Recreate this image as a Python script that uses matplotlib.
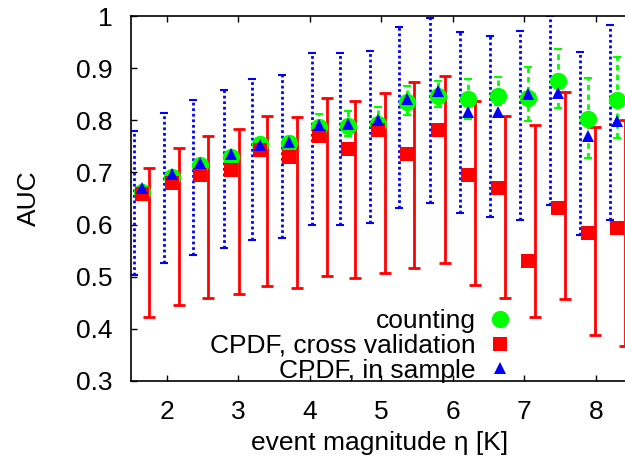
import matplotlib
matplotlib.use("Agg")
import matplotlib.pyplot as plt

plt.rcParams['font.family'] = ['Liberation Sans', 'DejaVu Sans']

# event magnitude bins (K)
magnitude = [1.65, 2.07, 2.47, 2.90, 3.30, 3.71, 4.13, 4.53, 4.95,
             5.36, 5.79, 6.21, 6.63, 7.05, 7.47, 7.89, 8.30]

# counting
counting = [0.663, 0.692, 0.714, 0.730, 0.754, 0.756, 0.787, 0.790, 0.794,
            0.835, 0.847, 0.842, 0.847, 0.844, 0.876, 0.802, 0.839]
counting_lo = [0.655, 0.684, 0.706, 0.722, 0.744, 0.746, 0.772, 0.771, 0.772,
               0.810, 0.825, 0.803, 0.830, 0.798, 0.823, 0.727, 0.767]
counting_hi = [0.671, 0.700, 0.722, 0.738, 0.764, 0.766, 0.812, 0.819, 0.826,
               0.867, 0.876, 0.879, 0.884, 0.903, 0.938, 0.882, 0.922]

# CPDF, cross validation
cross_val = [0.658, 0.679, 0.695, 0.705, 0.743, 0.730, 0.771, 0.745, 0.782,
             0.735, 0.782, 0.696, 0.671, 0.529, 0.632, 0.584, 0.594]
cross_val_lo = [0.423, 0.445, 0.459, 0.467, 0.481, 0.479, 0.502, 0.497, 0.507,
                0.516, 0.526, 0.484, 0.458, 0.422, 0.457, 0.388, 0.366]
cross_val_hi = [0.709, 0.747, 0.770, 0.784, 0.808, 0.806, 0.843, 0.838, 0.853,
                0.874, 0.885, 0.837, 0.808, 0.791, 0.855, 0.787, 0.801]

# CPDF, in sample
in_sample = [0.670, 0.697, 0.719, 0.735, 0.753, 0.759, 0.791, 0.793, 0.800,
             0.841, 0.857, 0.816, 0.817, 0.850, 0.853, 0.771, 0.799]
in_sample_lo = [0.503, 0.527, 0.542, 0.554, 0.570, 0.574, 0.599, 0.599, 0.603,
                0.632, 0.642, 0.622, 0.614, 0.609, 0.637, 0.579, 0.609]
in_sample_hi = [0.780, 0.814, 0.839, 0.858, 0.880, 0.887, 0.929, 0.929, 0.933,
                0.979, 0.996, 0.969, 0.963, 0.972, 1.000, 0.932, 0.983]

labels = ["counting", "CPDF, cross validation", "CPDF, in sample"]
xticks = [2, 3, 4, 5, 6, 7, 8]
yticks = [0.3, 0.4, 0.5, 0.6, 0.7, 0.8, 0.9, 1.0]
yticklabels = ["0.3", "0.4", "0.5", "0.6", "0.7", "0.8", "0.9", "1"]

GREEN = "#00ff00"
RED = "#ff0000"
BLUE = "#0000ff"
shift = 0.105
fs = 19


def err(center, lo, hi):
    return [[c - l for c, l in zip(center, lo)], [h - c for c, h in zip(center, hi)]]


fig = plt.figure(figsize=(6.25, 4.62), dpi=100)
ax = fig.add_axes([131 / 625, (462 - 380.7) / 462, 500.5 / 625, 364.4 / 462])

# error bars
eb = ax.errorbar([m - shift for m in magnitude], in_sample, yerr=err(in_sample, in_sample_lo, in_sample_hi),
                 fmt="none", ecolor=BLUE, elinewidth=2, capsize=3, capthick=1.5)
eb[2][0].set_linestyle((0, (1, 1)))
ax.errorbar([m + shift for m in magnitude], cross_val, yerr=err(cross_val, cross_val_lo, cross_val_hi),
            fmt="none", ecolor=RED, elinewidth=2, capsize=4, capthick=2)
eb = ax.errorbar(magnitude, counting, yerr=err(counting, counting_lo, counting_hi),
                 fmt="none", ecolor=GREEN, elinewidth=2, capsize=3, capthick=1.5)
eb[2][0].set_linestyle((0, (2, 1.5)))

# points
h1, = ax.plot(magnitude, counting, "o", color=GREEN, ms=12.5, mew=0, label=labels[0])
h2, = ax.plot(magnitude, cross_val, "s", color=RED, ms=9.5, mew=0, label=labels[1])
h3, = ax.plot(magnitude, in_sample, "^", color=BLUE, ms=9, mew=0, label=labels[2])

ax.set_xlim(1.5, 8.5)
ax.set_ylim(0.3, 1.0)
ax.set_xticks(xticks)
ax.set_xticklabels([str(t) for t in xticks])
ax.set_yticks(yticks)
ax.set_yticklabels(yticklabels)
ax.tick_params(direction="in", length=4, width=1, top=True, right=True, labelsize=fs)
ax.tick_params(axis="x", pad=14)
ax.tick_params(axis="y", pad=13)
for s in ax.spines.values():
    s.set_linewidth(1.2)

ax.set_xlabel("event magnitude η [K]", fontsize=fs)
ax.set_ylabel("AUC", fontsize=fs)
ax.xaxis.set_label_coords(0.497, -0.17)
ax.xaxis.label.set_va("center")
ax.yaxis.set_label_coords(-0.204, 0.5)
ax.yaxis.label.set_va("center")

ax.legend(handles=[h1, h2, h3], loc="lower right", bbox_to_anchor=(0.763, -0.005),
          markerfirst=False, frameon=False, handlelength=1.0, handletextpad=0.4,
          borderpad=0, borderaxespad=0, labelspacing=0.02, fontsize=fs)

fig.savefig("out.png", dpi=100)
